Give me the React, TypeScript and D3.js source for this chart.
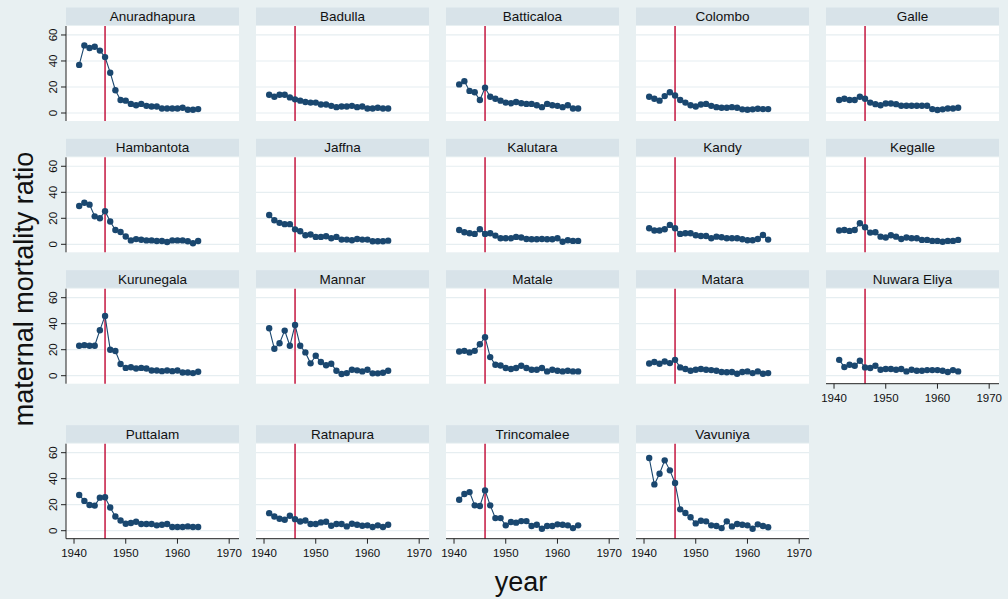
import React from "react";
import * as d3 from "d3";

// years 1941-1964, one value per year for each district
const years = d3.range(1941, 1965);
const tickYears = [1940, 1950, 1960, 1970];
const yTicks = [0, 20, 40, 60];
const interventionYear = 1946;

const districts = [
  "Anuradhapura", "Badulla", "Batticaloa", "Colombo", "Galle",
  "Hambantota", "Jaffna", "Kalutara", "Kandy", "Kegalle",
  "Kurunegala", "Mannar", "Matale", "Matara", "Nuwara Eliya",
  "Puttalam", "Ratnapura", "Trincomalee", "Vavuniya",
];

const anuradhapura = [37, 52, 50, 51, 48, 43, 31, 17.5, 10, 9.5, 7, 6, 7, 5.5, 5, 5, 3.5, 3.5, 3.5, 3.5, 4, 2.5, 2.5, 3];
const badulla = [14, 12.5, 14, 14, 12, 10.5, 9.5, 8.5, 8, 8, 6.5, 6.5, 5.5, 4.5, 5, 5, 5.5, 4.5, 5, 3.5, 3.5, 4, 3.5, 3.5];
const batticaloa = [22, 24.5, 17, 16, 10, 19.5, 12.5, 11, 9.5, 8, 7.5, 8.5, 7.5, 7, 7, 6, 4.5, 7, 6, 5.5, 4.5, 6, 3.5, 3.5];
const colombo = [12.5, 11, 9.5, 13, 16, 13.5, 10, 8, 6, 5, 6.5, 7, 5.5, 4.5, 4, 4, 4.5, 4, 2.8, 2.5, 2.8, 3.3, 3, 3];
const galle = [10, 11, 10, 10, 12.5, 11, 8, 6.8, 6, 7.3, 7.3, 6.8, 5.6, 5.6, 5.6, 5.6, 5.6, 5.6, 3, 2.3, 2.8, 3.5, 3.5, 4];
const hambantota = [29.5, 32, 30.5, 21.5, 20, 25.5, 17.5, 11, 9.5, 6, 3, 4, 3.5, 3, 3, 2.5, 2.5, 1.8, 3, 3, 3, 2.3, 0.8, 2.5];
const jaffna = [22.5, 18.5, 16.5, 15.5, 15.5, 11.5, 10, 7, 7.5, 5.7, 5.7, 6.2, 4.6, 5.7, 3.6, 3.6, 3.1, 4.1, 3.6, 3.6, 2.3, 2.3, 2.3, 2.8];
const kalutara = [11, 9.3, 8.5, 8, 11.6, 8, 8.5, 6.7, 4.6, 4.6, 4.6, 5.7, 5.2, 4.1, 3.9, 3.9, 4.1, 3.9, 3.9, 4.6, 2, 3.1, 2.6, 2.6];
const kandy = [12.4, 10.6, 10.6, 11.6, 14.9, 12.4, 8, 8.5, 8.5, 7, 6.4, 6.4, 4.6, 5.9, 5.4, 4.6, 4.6, 4.6, 3.9, 3.1, 3.1, 4.1, 7.2, 3.6];
const kegalle = [10.6, 11, 10.3, 11, 16.2, 13.1, 9, 9.3, 5.9, 5.2, 7, 5.9, 4.1, 5.2, 4.6, 4.6, 3.4, 3.4, 2.6, 2.6, 2, 2.6, 2.6, 3.4];
const kurunegala = [23, 23.5, 23, 23, 35, 46, 20, 19, 9, 6, 6.5, 5.5, 6, 5.5, 4, 4, 3.5, 4, 3.5, 4, 2.5, 2.5, 2, 3];
const mannar = [36.5, 20.7, 25, 34.7, 23, 39, 23, 17.9, 9.5, 15.3, 10.5, 8, 9.2, 3.8, 1.3, 2, 4.6, 4.1, 3.3, 4.6, 1.8, 1.8, 2.3, 3.8];
const matale = [18.6, 19.1, 17.9, 19.1, 24.2, 29.6, 14.3, 8.4, 7.9, 5.9, 5.1, 5.9, 7.7, 5.9, 4.6, 4.6, 5.9, 3.3, 4.6, 3.8, 3.3, 3.8, 3.3, 3.3];
const matara = [9.4, 10.5, 9.2, 10.9, 9.7, 12.2, 6.4, 5.1, 3.8, 4.6, 5.1, 4.6, 4.3, 3.8, 2.8, 2.6, 2.8, 1.5, 2.8, 3.3, 2, 3.3, 1.5, 2];
const nuwaraEliya = [12.2, 6.6, 8.4, 7.7, 11.5, 6.4, 5.9, 7.7, 4.6, 5.1, 5.1, 4.6, 5.1, 3.3, 4.6, 3.8, 3.8, 4.3, 4.3, 4.3, 3.8, 2.8, 4.3, 3.3];
const puttalam = [27.5, 22.9, 19.8, 19.3, 25.4, 25.7, 17.8, 10.9, 7.9, 5.3, 5.9, 6.9, 5.1, 5.1, 5.1, 4.1, 4.6, 5.1, 2.8, 2.8, 2.8, 3.3, 2.8, 2.8];
const ratnapura = [13.5, 10.9, 9.2, 8.4, 11.5, 8.9, 7.1, 7.9, 5.1, 5.1, 6.4, 6.9, 3.8, 5.1, 5.1, 3.3, 5.3, 4.6, 3.8, 4.1, 2.8, 4.1, 2.8, 4.6];
const trincomalee = [23.8, 28.2, 29.7, 19.5, 19, 31, 19.5, 9.7, 9.7, 4.1, 6.7, 6.2, 7.4, 7.4, 3.6, 4.6, 1.5, 3.6, 3.6, 4.9, 4.6, 4.1, 2, 4.1];
const vavuniya = [55.9, 35.6, 43.8, 54.1, 46.4, 36.7, 16.4, 13.6, 10.3, 5.6, 7.7, 7.2, 4.1, 3.6, 2, 7.2, 3.3, 5.1, 4.6, 4.1, 1.5, 4.9, 3.6, 2.6];

const seriesValues = [
  anuradhapura, badulla, batticaloa, colombo, galle,
  hambantota, jaffna, kalutara, kandy, kegalle,
  kurunegala, mannar, matale, matara, nuwaraEliya,
  puttalam, ratnapura, trincomalee, vavuniya,
];

const W = 1008;
const H = 599;
const colX = [66, 256, 446, 636, 826];
const rowTop = [26, 157.3, 288.7, 443.7];
const pw = 173;
const ph = 95;
const stripH = 17.5;

const bg = "#e8f0f2";
const stripFill = "#d8e3e9";
const gridColor = "#e6eef1";
const navy = "#1a476f";
const red = "#c4163f";
const font = "'Liberation Sans', Arial, sans-serif";

const x = d3.scaleLinear().domain([1938.45, 1971.9]).range([0, pw]);
const y = d3.scaleLinear().domain([-6.15, 66.9]).range([ph, 0]);

function Panel({ name, values, col, row, showX }) {
  const tx = colX[col];
  const ty = rowTop[row];
  const pts = years.map((yr, i) => [yr, values[i]]);
  const path = d3.line().x(d => x(d[0])).y(d => y(d[1]))(pts);
  return (
    <g transform={`translate(${tx},${ty})`}>
      <rect x={0} y={-stripH - 1} width={pw} height={stripH} fill={stripFill} />
      <text x={pw / 2} y={-stripH / 2 - 1} dy="0.36em" textAnchor="middle" fontSize={13.5} fill="#111">{name}</text>
      <rect x={0} y={0} width={pw} height={ph} fill="#fff" />
      {yTicks.map(t => (
        <line key={t} x1={0} x2={pw} y1={y(t)} y2={y(t)} stroke={gridColor} strokeWidth={1.2} />
      ))}
      <line x1={x(interventionYear)} x2={x(interventionYear)} y1={0} y2={ph} stroke={red} strokeWidth={1.5} />
      <path d={path} fill="none" stroke={navy} strokeWidth={1.1} />
      {pts.map(d => (
        <circle key={d[0]} cx={x(d[0])} cy={y(d[1])} r={3.2} fill={navy} />
      ))}
      {col === 0 && (
        <g>
          <line x1={0} x2={0} y1={0} y2={ph} stroke="#222" strokeWidth={1} />
          {yTicks.map(t => (
            <g key={t} transform={`translate(0,${y(t)})`}>
              <line x1={-5} x2={0} stroke="#222" />
              <text transform="translate(-9,0) rotate(-90)" textAnchor="middle" fontSize={11.5} fill="#111">{t}</text>
            </g>
          ))}
        </g>
      )}
      {showX && (
        <g transform={`translate(0,${ph})`}>
          <line x1={0} x2={pw} stroke="#222" strokeWidth={1} />
          {tickYears.map(t => (
            <g key={t} transform={`translate(${x(t)},0)`}>
              <line y1={0} y2={5} stroke="#222" />
              <text y={18} textAnchor="middle" fontSize={11.5} fill="#111">{t}</text>
            </g>
          ))}
        </g>
      )}
    </g>
  );
}

export default function App() {
  return (
    <svg width={W} height={H} style={{ position: "absolute", left: 0, top: 0, fontFamily: font }}>
      <rect width={W} height={H} fill={bg} />
      {districts.map((name, i) => {
        const col = i % 5;
        const row = Math.floor(i / 5);
        const showX = row === 3 || (row === 2 && col === 4);
        return <Panel key={name} name={name} values={seriesValues[i]} col={col} row={row} showX={showX} />;
      })}
      <text transform="translate(33,289) rotate(-90)" textAnchor="middle" fontSize={27} fill="#111">maternal mortality ratio</text>
      <text x={521} y={591} textAnchor="middle" fontSize={27} fill="#111">year</text>
    </svg>
  );
}
